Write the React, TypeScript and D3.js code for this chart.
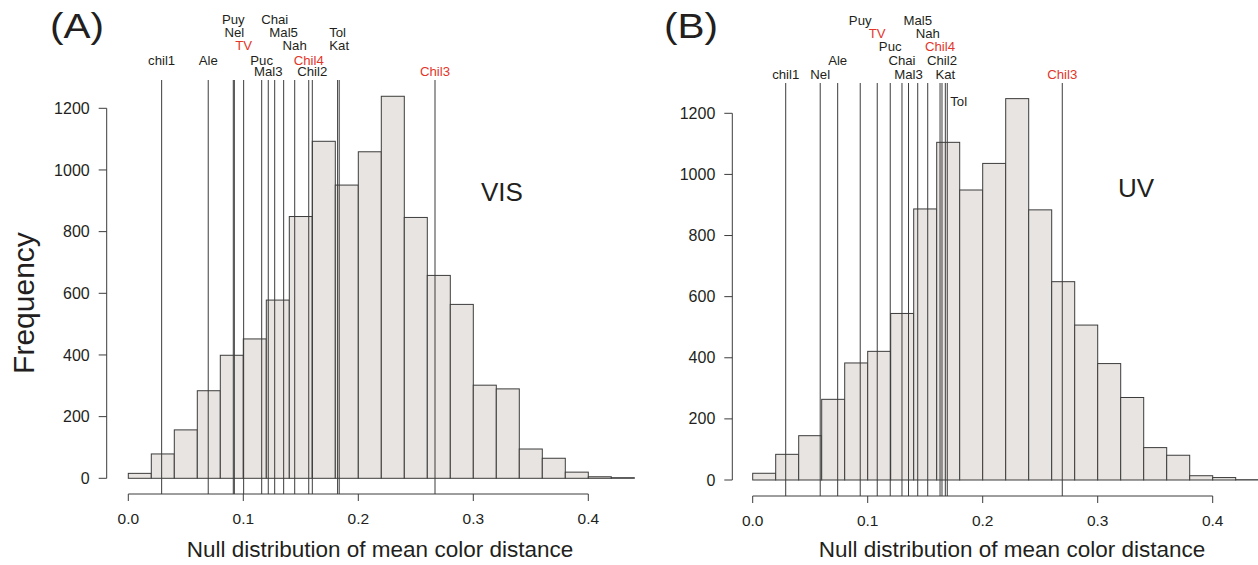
import React from "react";
import * as d3 from "d3";

// ---------- data ----------
const binWidth = 0.02;
const visCounts = [16, 79, 157, 284, 399, 452, 578, 849, 1093, 951, 1059, 1239, 846, 658, 564, 302, 290, 95, 65, 20, 5, 2];
const uvCounts = [22, 84, 145, 264, 383, 421, 545, 887, 1105, 949, 1036, 1248, 884, 649, 507, 381, 270, 106, 81, 14, 8, 1];

const visNames = ["chil1", "Ale", "Puy", "Nel", "TV", "Puc", "Mal3", "Chai", "Mal5", "Nah", "Chil4", "Chil2", "Tol", "Kat", "Chil3"];
const visValues = [0.029, 0.0695, 0.0913, 0.0922, 0.1003, 0.116, 0.1217, 0.1273, 0.1351, 0.1447, 0.1569, 0.16, 0.182, 0.1834, 0.2667];
const visRows = [3, 3, 0, 1, 2, 3, 4, 0, 1, 2, 3, 4, 1, 2, 4];

const uvNames = ["chil1", "Nel", "Ale", "Puy", "TV", "Puc", "Chai", "Mal3", "Mal5", "Nah", "Chil4", "Chil2", "Kat", "Tol", "Chil3"];
const uvValues = [0.0287, 0.0587, 0.0739, 0.0935, 0.1083, 0.1196, 0.1298, 0.1355, 0.1435, 0.1522, 0.1629, 0.1646, 0.1675, 0.1692, 0.2692];
const uvRows = [4, 4, 3, 0, 1, 2, 3, 4, 0, 1, 2, 3, 4, 5, 4];

const redNames = ["TV", "Chil4", "Chil3"];
const xTicks = [0, 0.1, 0.2, 0.3, 0.4];
const yTicks = [0, 200, 400, 600, 800, 1000, 1200];
const xTitle = "Null distribution of mean color distance";
const yTitle = "Frequency";

// ---------- layout ----------
const FONT = "'Liberation Sans', Arial, Helvetica, sans-serif";
const STROKE = "#3c3c3c";
const RED = "#e2362a";
const TXT = "#231f20";

type PanelCfg = {
  tag: string;
  tagX: number;
  sub: string;
  subX: number;
  subY: number;
  x0: number;
  x1: number;
  yBase: number;
  yTop: number;
  axisY: number;
  yAxisX: number;
  lineTop: number;
  rowY: number[];
  titleX: number;
  counts: number[];
  names: string[];
  values: number[];
  rows: number[];
  tickLabelY: number;
};

const panels: PanelCfg[] = [
  {
    tag: "(A)", tagX: 50, sub: "VIS", subX: 502, subY: 201,
    x0: 128.3, x1: 588.3, yBase: 478.3, yTop: 108.3, axisY: 494, yAxisX: 106.7,
    lineTop: 80, rowY: [19, 32.5, 45.3, 60, 71.5, 100], titleX: 380,
    counts: visCounts, names: visNames, values: visValues, rows: visRows, tickLabelY: 524,
  },
  {
    tag: "(B)", tagX: 664, sub: "UV", subX: 1136, subY: 197,
    x0: 752.7, x1: 1212.7, yBase: 480, yTop: 113.3, axisY: 496, yAxisX: 732.3,
    lineTop: 83, rowY: [20, 33.3, 46.7, 60.7, 74, 101], titleX: 1012,
    counts: uvCounts, names: uvNames, values: uvValues, rows: uvRows, tickLabelY: 526,
  },
];

function Panel({ p }: { p: PanelCfg }) {
  const x = d3.scaleLinear().domain([0, 0.4]).range([p.x0, p.x1]);
  const y = d3.scaleLinear().domain([0, 1200]).range([p.yBase, p.yTop]);
  return (
    <g>
      <text x={p.tagX} y={38} fontSize={35} textLength={54} lengthAdjust="spacingAndGlyphs"
        fontFamily={FONT} fill={TXT}>{p.tag}</text>
      {/* bars */}
      {p.counts.map((c, i) => (
        <rect key={"b" + i}
          x={x(i * binWidth)} y={y(c)}
          width={x((i + 1) * binWidth) - x(i * binWidth)}
          height={y(0) - y(c)}
          fill="#e8e4e1" stroke={STROKE} strokeWidth={1} />
      ))}
      {/* vertical population lines */}
      {p.values.map((v, i) => (
        <line key={"l" + i} x1={x(v)} x2={x(v)} y1={p.lineTop} y2={p.axisY}
          stroke={STROKE} strokeWidth={1} />
      ))}
      {/* population labels */}
      {p.names.map((n, i) => {
        const special = p.rows[i] === 5;
        return (
          <text key={"t" + i}
            x={special ? x(p.values[i]) + 3 : x(p.values[i])}
            y={p.rowY[p.rows[i]]} dy="0.35em"
            textAnchor={special ? "start" : "middle"}
            fontSize={13.2} fontFamily={FONT}
            fill={redNames.includes(n) ? RED : TXT}>{n}</text>
        );
      })}
      {/* x axis */}
      <line x1={x(0)} x2={x(0.4)} y1={p.axisY} y2={p.axisY} stroke={STROKE} strokeWidth={1} />
      {xTicks.map((t) => (
        <g key={"xt" + t}>
          <line x1={x(t)} x2={x(t)} y1={p.axisY} y2={p.axisY + 7} stroke={STROKE} strokeWidth={1} />
          <text x={x(t)} y={p.tickLabelY} textAnchor="middle" fontSize={15.5} fontFamily={FONT} fill={TXT}>
            {t.toFixed(1)}
          </text>
        </g>
      ))}
      <text x={p.titleX} y={557} textAnchor="middle" fontSize={22.5} fontFamily={FONT} fill={TXT}>{xTitle}</text>
      {/* y axis */}
      <line x1={p.yAxisX} x2={p.yAxisX} y1={y(0)} y2={y(1200)} stroke={STROKE} strokeWidth={1} />
      {yTicks.map((t) => (
        <g key={"yt" + t}>
          <line x1={p.yAxisX - 8} x2={p.yAxisX} y1={y(t)} y2={y(t)} stroke={STROKE} strokeWidth={1} />
          <text x={p.yAxisX - 17} y={y(t)} dy="0.35em" textAnchor="end" fontSize={16} fontFamily={FONT} fill={TXT}>
            {t}
          </text>
        </g>
      ))}
      <text x={p.subX} y={p.subY} textAnchor="middle" fontSize={26} fontFamily={FONT} fill={TXT}>{p.sub}</text>
    </g>
  );
}

export default function App() {
  return (
    <svg width={1258} height={565} style={{ position: "absolute", left: 0, top: 0, background: "#fff" }}>
      <rect x={0} y={0} width={1258} height={565} fill="#fff" />
      {panels.map((p) => <Panel key={p.tag} p={p} />)}
      <text transform="translate(34,303) rotate(-90)" textAnchor="middle" fontSize={30} fontFamily={FONT} fill={TXT}>
        {yTitle}
      </text>
    </svg>
  );
}
